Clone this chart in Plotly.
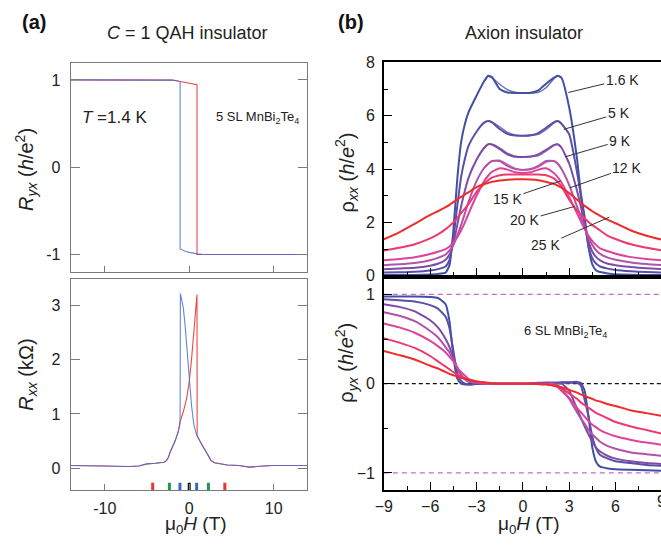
import plotly.graph_objects as go

# ================= (a) C = 1 QAH insulator (5 SL MnBi2Te4, T = 1.4 K) =================
ryx_blue_H = [-14.1, -4, -2.5, -2, -1.5, -1.2, -1.08, -1.08, -0.8, -0.4, 0, 0.5, 1, 1.5, 2, 2.5, 14.1]
ryx_blue = [1, 1, 1, 0.998, 0.99, 0.982, 0.978, -0.935, -0.95, -0.965, -0.975, -0.985, -0.992, -0.996, -0.999, -1, -1]
ryx_red_H = [-14.1, -2.5, -2, -1.5, -1, -0.5, 0, 0.5, 0.92, 0.92, 1.5, 14.1]
ryx_red = [1, 1, 0.998, 0.99, 0.98, 0.97, 0.96, 0.952, 0.945, -1, -1, -1]

rxx_blue_H = [-14.1, -13, -12, -11, -10, -9, -8, -7, -6, -5, -4, -3.5, -3, -2.7, -2.46, -2.3, -2.07, -1.85, -1.68, -1.5, -1.29, -1.12, -1.08,
              -1.05, -0.9, -0.7, -0.5, -0.31, -0.15, 0, 0.27, 0.55, 0.86, 1.25, 1.55, 1.83, 2.22, 2.6, 3.0, 3.6, 4.5, 5.9, 7.1, 8, 9, 9.8, 11, 12, 13, 14.1]
rxx_blue = [0.05, 0.05, 0.045, 0.045, 0.04, 0.035, 0.03, 0.03, 0.04, 0.08, 0.09, 0.1, 0.11, 0.14, 0.2, 0.28, 0.38, 0.44, 0.5, 0.57, 0.68, 0.8, 0.86,
            3.22, 3.1, 2.95, 2.65, 2.29, 1.98, 1.69, 1.16, 0.8, 0.62, 0.5, 0.42, 0.35, 0.23, 0.14, 0.1, 0.08, 0.06, 0.05, 0.02, 0.03, 0.045, 0.05, 0.05, 0.05, 0.05, 0.05]
rxx_red_H = [-14.1, -13, -12, -11, -10, -9, -8, -7, -6, -5, -4, -3.5, -3, -2.7, -2.46, -2.3, -2.07, -1.85, -1.68, -1.5, -1.29, -1.1,
             -0.7, -0.31, 0, 0.27, 0.55, 0.74, 0.92, 0.94, 1.25, 1.55, 1.83, 2.22, 2.6, 3.0, 3.6, 4.5, 5.9, 7.1, 8, 9, 9.8, 11, 12, 13, 14.1]
rxx_red = [0.05, 0.05, 0.045, 0.045, 0.04, 0.035, 0.03, 0.03, 0.04, 0.08, 0.09, 0.1, 0.11, 0.14, 0.2, 0.28, 0.38, 0.44, 0.5, 0.57, 0.68, 0.85,
           1.04, 1.28, 1.6, 2.0, 2.47, 2.89, 3.2, 0.6, 0.5, 0.42, 0.35, 0.23, 0.14, 0.1, 0.08, 0.06, 0.05, 0.02, 0.03, 0.045, 0.05, 0.05, 0.05, 0.05, 0.05]

mark_H = [-4.33, -2.35, -1.1, 0.0, 0.88, 2.27, 4.22]
mark_colors = ["#ee3333", "#1a9a50", "#3a66c8", "#111111", "#3a66c8", "#1a9a50", "#ee3333"]

# ================= (b) Axion insulator (6 SL MnBi2Te4) =================
temps = ["1.6 K", "5 K", "9 K", "12 K", "15 K", "20 K", "25 K"]
temp_colors = ["#4250a4", "#5a4ea6", "#7d4ca6", "#b253a8", "#dc449c", "#ec3a70", "#ee2c2c"]

field_T = [-9, -8, -7, -6, -5.5, -5, -4.75, -4.5, -4.25, -4, -3.75, -3.5, -3, -2.5, -2.25, -2, -1.5, -1, -0.5, 0,
           0.5, 1, 1.5, 2, 2.25, 2.5, 3, 3.5, 3.75, 4, 4.25, 4.5, 4.75, 5, 5.5, 6, 7, 8, 9]

rho_xx_1p6K = [0.03, 0.03, 0.03, 0.05, 0.07, 0.12, 0.4, 1.7, 3.6, 5.0, 5.7, 6.15, 6.75, 7.3, 7.5, 7.45, 7.0, 6.87, 6.85, 6.85,
               6.86, 6.95, 7.2, 7.42, 7.5, 7.42, 6.3, 4.4, 3.1, 2.2, 1.07, 0.42, 0.2, 0.14, 0.09, 0.06, 0.04, 0.03, 0.03]
rho_xx_5K = [0.12, 0.13, 0.15, 0.2, 0.25, 0.35, 0.6, 1.4, 2.6, 3.7, 4.4, 4.9, 5.4, 5.75, 5.8, 5.75, 5.5, 5.32, 5.26, 5.25,
             5.27, 5.35, 5.55, 5.75, 5.8, 5.7, 5.3, 3.9, 3.0, 2.0, 1.1, 0.65, 0.45, 0.35, 0.27, 0.22, 0.17, 0.14, 0.12]
rho_xx_9K = [0.25, 0.27, 0.3, 0.38, 0.45, 0.6, 0.8, 1.2, 1.9, 2.6, 3.2, 3.7, 4.35, 4.8, 4.93, 4.92, 4.75, 4.55, 4.46, 4.45,
             4.47, 4.55, 4.72, 4.9, 4.93, 4.8, 4.2, 3.2, 2.6, 1.9, 1.3, 0.9, 0.7, 0.58, 0.45, 0.4, 0.33, 0.28, 0.25]
rho_xx_12K = [0.4, 0.43, 0.48, 0.58, 0.67, 0.8, 0.95, 1.15, 1.5, 1.9, 2.35, 2.8, 3.55, 4.05, 4.2, 4.3, 4.3, 4.12, 4.0, 3.97,
              4.0, 4.12, 4.3, 4.3, 4.2, 4.0, 3.4, 2.6, 2.2, 1.8, 1.45, 1.15, 0.95, 0.82, 0.68, 0.6, 0.5, 0.44, 0.4]
rho_xx_15K = [0.58, 0.63, 0.7, 0.82, 0.9, 1.0, 1.1, 1.25, 1.45, 1.7, 2.0, 2.35, 3.0, 3.55, 3.75, 3.9, 4.03, 3.98, 3.88, 3.85,
              3.88, 3.98, 4.03, 3.85, 3.7, 3.5, 2.95, 2.35, 2.05, 1.75, 1.5, 1.3, 1.15, 1.03, 0.92, 0.83, 0.7, 0.63, 0.58]
rho_xx_20K = [0.95, 1.05, 1.18, 1.4, 1.55, 1.75, 1.87, 2.0, 2.17, 2.35, 2.52, 2.7, 3.15, 3.45, 3.58, 3.68, 3.77, 3.8, 3.8, 3.8,
              3.8, 3.8, 3.77, 3.65, 3.52, 3.35, 2.85, 2.45, 2.3, 2.15, 2.02, 1.9, 1.8, 1.7, 1.5, 1.38, 1.18, 1.05, 0.95]
rho_xx_25K = [1.37, 1.63, 1.95, 2.28, 2.42, 2.57, 2.66, 2.76, 2.86, 2.96, 3.05, 3.14, 3.32, 3.44, 3.48, 3.52, 3.57, 3.6, 3.62, 3.62,
              3.61, 3.58, 3.52, 3.45, 3.38, 3.3, 3.1, 2.86, 2.74, 2.62, 2.52, 2.42, 2.33, 2.25, 2.1, 1.97, 1.7, 1.5, 1.35]
rho_xx_all = [rho_xx_1p6K, rho_xx_5K, rho_xx_9K, rho_xx_12K, rho_xx_15K, rho_xx_20K, rho_xx_25K]

# reverse-sweep branch in the central (hysteretic) region
center_T = [-2.5, -2.25, -2, -1.5, -1, -0.5, 0, 0.5, 1, 1.5, 2, 2.25, 2.5]
rho_xx_1p6K_rev = [7.3, 7.48, 7.42, 7.18, 6.98, 6.88, 6.85, 6.85, 6.88, 7.05, 7.38, 7.5, 7.42]
rho_xx_5K_rev = [5.72, 5.8, 5.77, 5.58, 5.38, 5.28, 5.25, 5.26, 5.3, 5.48, 5.72, 5.8, 5.72]
rho_xx_9K_rev = [4.78, 4.92, 4.93, 4.8, 4.6, 4.48, 4.45, 4.46, 4.5, 4.67, 4.88, 4.93, 4.82]
rho_xx_12K_rev = [4.02, 4.18, 4.3, 4.33, 4.18, 4.03, 3.97, 3.98, 4.07, 4.25, 4.31, 4.22, 4.03]
rho_xx_rev = [rho_xx_1p6K_rev, rho_xx_5K_rev, rho_xx_9K_rev, rho_xx_12K_rev]

rho_yx_1p6K = [0.975, 0.975, 0.975, 0.97, 0.96, 0.89, 0.7, 0.3, 0.06, 0.0, -0.01, -0.01, -0.005, 0, 0, 0, 0, 0, 0, 0,
               0.005, 0.01, 0.01, 0.01, 0.01, 0.015, 0.015, 0.02, 0.01, -0.08, -0.37, -0.72, -0.88, -0.93, -0.95, -0.96, -0.965, -0.97, -0.975]
rho_yx_5K = [0.946, 0.935, 0.92, 0.88, 0.84, 0.75, 0.62, 0.37, 0.12, 0.03, 0.0, -0.01, 0, 0, 0, 0, 0, 0, 0, 0,
             0, 0.005, 0.01, 0.01, 0.01, 0.01, 0.01, 0.01, -0.02, -0.18, -0.37, -0.6, -0.73, -0.8, -0.84, -0.87, -0.89, -0.91, -0.92]
rho_yx_9K = [0.89, 0.86, 0.81, 0.71, 0.63, 0.5, 0.41, 0.29, 0.18, 0.09, 0.05, 0.02, 0.005, 0, 0, 0, 0, 0, 0, 0,
             0, 0, 0, 0, 0, 0, -0.08, -0.28, -0.38, -0.48, -0.57, -0.65, -0.72, -0.76, -0.81, -0.84, -0.87, -0.89, -0.9]
rho_yx_12K = [0.8, 0.76, 0.7, 0.59, 0.52, 0.41, 0.35, 0.26, 0.18, 0.1, 0.05, 0.025, 0.01, 0, 0, 0, 0, 0, 0, 0,
              0, 0, 0, 0, -0.02, -0.06, -0.17, -0.32, -0.39, -0.45, -0.52, -0.57, -0.61, -0.65, -0.7, -0.73, -0.77, -0.79, -0.81]
rho_yx_15K = [0.674, 0.63, 0.57, 0.48, 0.42, 0.35, 0.3, 0.25, 0.18, 0.13, 0.09, 0.05, 0.02, 0.005, 0, 0, 0, 0, 0, 0,
              0, 0, -0.005, -0.02, -0.04, -0.08, -0.16, -0.27, -0.32, -0.37, -0.42, -0.46, -0.49, -0.52, -0.56, -0.59, -0.63, -0.66, -0.685]
rho_yx_20K = [0.51, 0.46, 0.4, 0.31, 0.25, 0.19, 0.16, 0.13, 0.1, 0.078, 0.06, 0.045, 0.025, 0.01, 0.005, 0, 0, 0, 0, 0,
              0, 0, -0.005, -0.02, -0.03, -0.05, -0.11, -0.17, -0.21, -0.24, -0.27, -0.3, -0.33, -0.35, -0.39, -0.43, -0.48, -0.52, -0.56]
rho_yx_25K = [0.366, 0.32, 0.27, 0.2, 0.17, 0.13, 0.11, 0.095, 0.08, 0.065, 0.055, 0.045, 0.025, 0.015, 0.01, 0.005, 0, 0, 0, 0,
              0, -0.005, -0.01, -0.02, -0.03, -0.04, -0.07, -0.1, -0.12, -0.14, -0.155, -0.17, -0.19, -0.2, -0.23, -0.25, -0.3, -0.33, -0.36]
rho_yx_all = [rho_yx_1p6K, rho_yx_5K, rho_yx_9K, rho_yx_12K, rho_yx_15K, rho_yx_20K, rho_yx_25K]

# label pointer targets (field, rho_xx) and text offsets in px
label_H = [2.94, 2.64, 2.74, 3.05, 2.43, 3.35, 5.6]
label_rho = [6.87, 5.49, 4.46, 3.3, 3.55, 2.6, 2.2]
label_dx = [54, 55, 55, 57, -53, -50, -64]
label_dy = [-13, -16, -16, -20, 18, 14, 28]

# ---------------- layout helpers ----------------
W, H = 661, 546
def px(x):
    return x / W
def py(y):
    return 1 - y / H

FONT = "Liberation Sans, Arial, sans-serif"
BLUE_A = "#4a70cf"
RED_A = "#f04646"

fig = go.Figure()

# (a) top: R_yx
fig.add_trace(go.Scatter(x=ryx_red_H, y=ryx_red, mode="lines", line=dict(color=RED_A, width=1.1), xaxis="x", yaxis="y"))
fig.add_trace(go.Scatter(x=ryx_blue_H, y=ryx_blue, mode="lines", line=dict(color=BLUE_A, width=1.1), xaxis="x", yaxis="y", opacity=0.85))
# (a) bottom: R_xx
fig.add_trace(go.Scatter(x=rxx_red_H, y=rxx_red, mode="lines", line=dict(color=RED_A, width=1.1), xaxis="x2", yaxis="y2"))
fig.add_trace(go.Scatter(x=rxx_blue_H, y=rxx_blue, mode="lines", line=dict(color=BLUE_A, width=1.1), xaxis="x2", yaxis="y2", opacity=0.85))
fig.add_trace(go.Scatter(x=mark_H, y=[-0.36] * len(mark_H), mode="markers",
                         marker=dict(symbol="line-ns", size=7, line=dict(color=mark_colors, width=3)),
                         xaxis="x2", yaxis="y2"))

# (b) top: rho_xx
for i, (name, col) in enumerate(zip(temps, temp_colors)):
    fig.add_trace(go.Scatter(x=field_T, y=rho_xx_all[i], mode="lines", name=name,
                             line=dict(color=col, width=2, shape="spline", smoothing=0.5),
                             xaxis="x3", yaxis="y3"))
    if i < len(rho_xx_rev):
        fig.add_trace(go.Scatter(x=center_T, y=rho_xx_rev[i], mode="lines",
                                 line=dict(color=col, width=1.4, shape="spline", smoothing=0.5),
                                 xaxis="x3", yaxis="y3", opacity=0.8))
# (b) bottom: rho_yx
for i, (name, col) in enumerate(zip(temps, temp_colors)):
    fig.add_trace(go.Scatter(x=field_T, y=rho_yx_all[i], mode="lines", name=name,
                             line=dict(color=col, width=2, shape="spline", smoothing=0.5),
                             xaxis="x4", yaxis="y4"))

GRAY = "#7a7a7a"
tickfont_a = dict(family=FONT, size=16, color="#222")
tickfont_b = dict(family=FONT, size=16, color="#222")

ax_a_common = dict(showline=True, linecolor=GRAY, linewidth=1, mirror=True, ticks="inside",
                   tickcolor=GRAY, showgrid=False, zeroline=False, tickfont=tickfont_a)
fig.update_layout(
    xaxis=dict(ax_a_common, domain=[px(62.5), px(302.5)], range=[-14.05, 14.0], anchor="y",
               tickvals=[-10, 0, 10], showticklabels=False, ticklen=6),
    yaxis=dict(ax_a_common, domain=[py(272), py(57)], range=[-1.2, 1.19], anchor="x",
               tickvals=[-1, 0, 1], ticktext=["-1", "0", "1"], ticklen=9, mirror="ticks", ticklabelstandoff=6),
    xaxis2=dict(ax_a_common, domain=[px(62.5), px(302.5)], range=[-14.05, 14.0], anchor="y2",
                tickvals=[-10, 0, 10], ticktext=["-10", "0", "10"], ticklen=6, ticklabelstandoff=3),
    yaxis2=dict(ax_a_common, domain=[py(497), py(279)], range=[-0.41, 3.49], anchor="x2",
                tickvals=[0, 1, 2, 3], ticklen=9, mirror="ticks", ticklabelstandoff=6),
)

ax_b_common = dict(showline=True, linecolor="black", linewidth=1.5, ticks="inside", tickcolor="black",
                   tickwidth=1.3, showgrid=False, zeroline=False, tickfont=tickfont_b)
fig.update_layout(
    xaxis3=dict(ax_b_common, domain=[px(380), 1.0], range=[-9, 8.94], anchor="y3", mirror=True,
                tick0=-9, dtick=3, ticklen=9, showticklabels=False,
                minor=dict(dtick=1.5, tick0=-9, ticks="inside", ticklen=5, tickcolor="black", tickwidth=1.3)),
    yaxis3=dict(ax_b_common, domain=[py(277), py(56)], range=[-0.04, 8.0], anchor="x3",
                tick0=0, dtick=2, ticklen=8, ticklabelstandoff=4,
                minor=dict(dtick=1, ticks="inside", ticklen=4, tickcolor="black", tickwidth=1.3)),
    xaxis4=dict(ax_b_common, domain=[px(380), 1.0], range=[-9, 8.94], anchor="y4", mirror=True,
                tick0=-9, dtick=3, ticklen=9, ticklabelstandoff=1,
                minor=dict(dtick=1.5, tick0=-9, ticks="inside", ticklen=5, tickcolor="black", tickwidth=1.3)),
    yaxis4=dict(ax_b_common, domain=[py(497), py(277)], range=[-1.196, 1.196], anchor="x4",
                tickvals=[-1, 0, 1], ticklen=8, ticklabelstandoff=4,
                minor=dict(dtick=0.5, ticks="inside", ticklen=4, tickcolor="black", tickwidth=1.3)),
)

# reference lines in rho_yx panel
for yv, col, dash in [(1, "#cc66cc", "5px,4px"), (-1, "#cc66cc", "5px,4px"), (0, "#111111", "4px,3px")]:
    fig.add_shape(type="line", xref="x4 domain", yref="y4", x0=0, x1=1, y0=yv, y1=yv,
                  line=dict(color=col, width=1.2, dash=dash), layer="below")

ann = []
def txt(x, y, text, size, **kw):
    d = dict(x=px(x), y=py(y), xref="paper", yref="paper", text=text, showarrow=False,
             font=dict(family=FONT, size=size, color=kw.pop("color", "#222")), xanchor="center", yanchor="middle")
    d.update(kw)
    ann.append(d)

txt(25, 14, "<b>(a)</b>", 20, color="#111")
txt(347, 14, "<b>(b)</b>", 20, color="#111")
txt(181, 26, "<i>C</i> = 1 QAH insulator", 18)
txt(522, 26, "Axion insulator", 18)
txt(17, 166, "<i>R</i><sub><i>yx</i></sub> (<i>h</i>/e<sup>2</sup>)", 20, textangle=-90)
txt(19, 378, "<i>R</i><sub><i>xx</i></sub> (kΩ)", 20, textangle=-90)
txt(342, 169, "ρ<sub><i>xx</i></sub> (<i>h</i>/<i>e</i><sup>2</sup>)", 20, textangle=-90)
txt(342, 365, "ρ<sub><i>yx</i></sub> (<i>h</i>/<i>e</i><sup>2</sup>)", 20, textangle=-90)
txt(190, 533, "μ<sub>0</sub><i>H</i> (T)", 19)
txt(527, 533, "μ<sub>0</sub><i>H</i> (T)", 19)
txt(107, 113, "<i>T</i> =1.4 K", 17)
txt(252, 113, "5 SL MnBi<sub>2</sub>Te<sub>4</sub>", 13)
txt(564, 333, "6 SL MnBi<sub>2</sub>Te<sub>4</sub>", 13)
txt(662, 508, "9", 16)

for name, hx, ry, dx, dy in zip(temps, label_H, label_rho, label_dx, label_dy):
    ann.append(dict(x=hx, y=ry, xref="x3", yref="y3", text=name, showarrow=True, arrowhead=0,
                    arrowwidth=1, arrowcolor="#333", ax=dx, ay=dy,
                    font=dict(family=FONT, size=14, color="#222")))

fig.update_layout(
    width=W, height=H, margin=dict(l=0, r=0, t=0, b=0),
    paper_bgcolor="white", plot_bgcolor="white", showlegend=False,
    annotations=ann, font=dict(family=FONT),
)

fig.write_html("out.html", config={"displayModeBar": False},
               post_script="document.body.style.margin='0';document.body.style.overflow='hidden';")
